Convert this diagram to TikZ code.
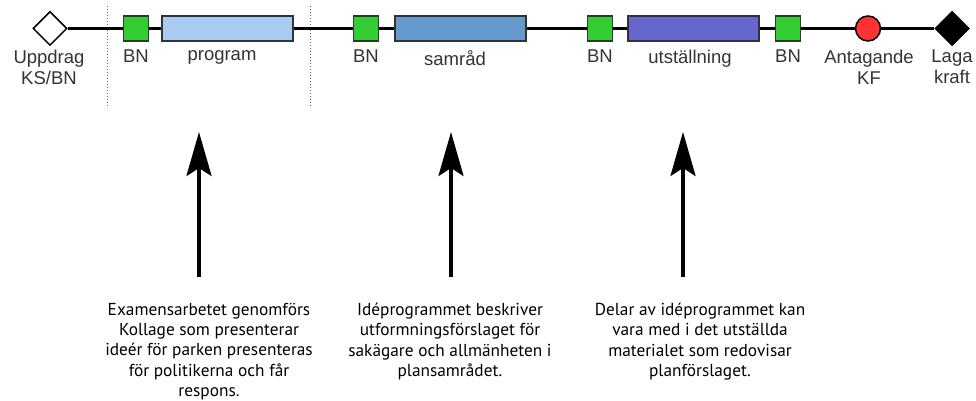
\documentclass[tikz,border=0pt]{standalone}
\usepackage{fontspec}
\setmainfont{Liberation Sans}
\newfontfamily\descfont{PT Sans}
\usetikzlibrary{shapes.geometric,arrows.meta}
\definecolor{bngreen}{HTML}{33CC33}
\definecolor{progblue}{HTML}{A9CBEF}
\definecolor{samblue}{HTML}{6699CC}
\definecolor{utstblue}{HTML}{6666CC}
\definecolor{kfred}{HTML}{FF3333}
\definecolor{frame}{HTML}{333333}
\tikzset{
  bnbox/.style={draw=frame,line width=1.5pt,fill=bngreen,minimum width=25pt,minimum height=25pt,inner sep=0pt},
  phase/.style={draw=frame,line width=1.5pt,minimum height=25pt,inner sep=0pt},
  milestone/.style={diamond,aspect=1,draw=black,line width=1.5pt,minimum width=34pt,minimum height=34pt,inner sep=0pt},
  lbl/.style={font=\fontsize{18.5}{20.5}\selectfont,text=black!80,align=center,inner sep=0pt},
  desc/.style={font=\descfont\fontsize{17.3}{20.2}\selectfont,text=black,align=center,inner sep=0pt,anchor=north},
  tline/.style={line width=2.5pt,black},
  sep/.style={dotted,line width=1pt,black!60},
  arr/.style={line width=3.5pt,-{Stealth[length=44pt,width=25pt,inset=8pt]}}
}
\begin{document}
\begin{tikzpicture}[x=1pt,y=-1pt]
\useasboundingbox (0,0) rectangle (976,401);
% separators
\draw[sep] (107,6) -- (107,106);
\draw[sep] (310,6) -- (310,106);
% shapes
\node[milestone,fill=white] (upp) at (50,28.5) {};
\node[bnbox] (bn1) at (136,28.5) {};
\node[phase,fill=progblue,minimum width=131pt] (prog) at (227.5,28.5) {};
\node[bnbox] (bn2) at (366,28.5) {};
\node[phase,fill=samblue,minimum width=131pt] (sam) at (460.5,28.5) {};
\node[bnbox] (bn3) at (600,28.5) {};
\node[phase,fill=utstblue,minimum width=131pt] (utst) at (693.5,28.5) {};
\node[bnbox] (bn4) at (788,28.5) {};
\node[circle,draw=black,line width=1.5pt,fill=kfred,minimum size=25pt,inner sep=0pt] (kf) at (868,28.5) {};
\node[milestone,fill=black] (laga) at (952,28.5) {};
% timeline
\draw[tline] (upp) -- (bn1);
\draw[tline] (bn1) -- (prog);
\draw[tline] (prog) -- (bn2);
\draw[tline] (bn2) -- (sam);
\draw[tline] (sam) -- (bn3);
\draw[tline] (bn3) -- (utst);
\draw[tline] (utst) -- (bn4);
\draw[tline] (bn4) -- (kf);
\draw[tline] (kf) -- (laga);
% labels
\node[lbl,anchor=north] (lupp) at (49,50) {Uppdrag\\KS/BN};
\node[lbl,anchor=north] (lbn1) at (136,50) {BN};
\node[lbl,anchor=north] (lprog) at (222,50) {program};
\node[lbl,anchor=north] (lbn2) at (366,50) {BN};
\node[lbl,anchor=north] (lsam) at (455,50) {samråd};
\node[lbl,anchor=north] (lbn3) at (600,50) {BN};
\node[lbl,anchor=north] (lutst) at (690,50) {utställning};
\node[lbl,anchor=north] (lbn4) at (788,50) {BN};
\node[lbl,anchor=north] (lkf) at (869,50) {Antagande\\KF};
\node[lbl,anchor=north] (llaga) at (952,50) {Laga\\kraft};
% arrows
\coordinate (a1s) at (199,277); \coordinate (a1e) at (199,132);
\coordinate (a2s) at (451,277); \coordinate (a2e) at (451,132);
\coordinate (a3s) at (683,277); \coordinate (a3e) at (683,132);
\draw[arr] (a1s) -- (a1e);
\draw[arr] (a2s) -- (a2e);
\draw[arr] (a3s) -- (a3e);
% descriptions
\node[desc] (d1) at (209,303) {Examensarbetet genomförs\\Kollage som presenterar\\ideér för parken presenteras\\för politikerna och får\\respons.};
\node[desc] (d2) at (450,303) {Idéprogrammet beskriver\\utformningsförslaget för\\sakägare och allmänheten i\\plansamrådet.};
\node[desc] (d3) at (700,303) {Delar av idéprogrammet kan\\vara med i det utställda\\materialet som redovisar\\planförslaget.};
\end{tikzpicture}
\end{document}
